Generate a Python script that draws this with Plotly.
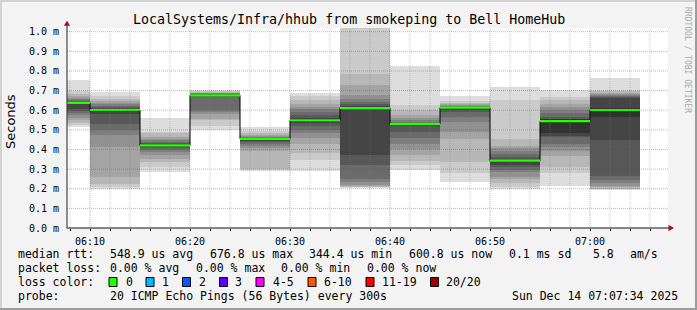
import pandas as pd
import plotly.graph_objects as go

# ---------------- data ----------------
DAY = "2025-12-14"
STEP_S = 300  # one smokeping interval (20 pings every 300 s)

interval_end = ["06:10", "06:15", "06:20", "06:25", "06:30", "06:35",
                "06:40", "06:45", "06:50", "06:55", "07:00", "07:05"]

# median rtt per interval (ms)
median_ms = [0.637, 0.601, 0.421, 0.676, 0.454, 0.549,
             0.611, 0.530, 0.613, 0.343, 0.544, 0.601]

# sorted 20 ping rtts per interval (ms) -> smoke
pings_ms = [
    [0.512, 0.524, 0.535, 0.549, 0.561, 0.574, 0.588, 0.598, 0.608, 0.630,
     0.641, 0.643, 0.646, 0.650, 0.655, 0.662, 0.672, 0.684, 0.700, 0.752],
    [0.198, 0.210, 0.225, 0.262, 0.414, 0.476, 0.500, 0.530, 0.580, 0.595,
     0.603, 0.608, 0.615, 0.622, 0.630, 0.638, 0.645, 0.655, 0.672, 0.693],
    [0.287, 0.310, 0.338, 0.350, 0.370, 0.385, 0.395, 0.405, 0.414, 0.418,
     0.424, 0.428, 0.433, 0.440, 0.447, 0.455, 0.465, 0.482, 0.490, 0.561],
    [0.498, 0.520, 0.550, 0.555, 0.580, 0.590, 0.600, 0.668, 0.671, 0.674,
     0.678, 0.680, 0.682, 0.684, 0.686, 0.688, 0.690, 0.693, 0.697, 0.704],
    [0.291, 0.295, 0.300, 0.390, 0.410, 0.420, 0.430, 0.440, 0.448, 0.452,
     0.456, 0.458, 0.460, 0.463, 0.466, 0.470, 0.476, 0.483, 0.493, 0.515],
    [0.288, 0.345, 0.380, 0.430, 0.460, 0.485, 0.500, 0.520, 0.535, 0.546,
     0.552, 0.562, 0.575, 0.590, 0.605, 0.615, 0.630, 0.650, 0.670, 0.688],
    [0.206, 0.208, 0.210, 0.213, 0.220, 0.235, 0.250, 0.320, 0.370, 0.609,
     0.613, 0.620, 0.630, 0.640, 0.655, 0.680, 0.730, 0.785, 1.050, 1.150],
    [0.296, 0.320, 0.340, 0.370, 0.400, 0.430, 0.460, 0.490, 0.520, 0.528,
     0.532, 0.534, 0.537, 0.542, 0.550, 0.560, 0.575, 0.600, 0.625, 0.823],
    [0.233, 0.280, 0.335, 0.455, 0.490, 0.540, 0.565, 0.590, 0.605, 0.611,
     0.614, 0.615, 0.617, 0.619, 0.622, 0.626, 0.630, 0.636, 0.645, 0.670],
    [0.200, 0.210, 0.228, 0.250, 0.262, 0.285, 0.296, 0.310, 0.322, 0.340,
     0.347, 0.350, 0.360, 0.375, 0.390, 0.410, 0.420, 0.455, 0.650, 0.718],
    [0.216, 0.280, 0.310, 0.365, 0.390, 0.415, 0.430, 0.465, 0.470, 0.482,
     0.553, 0.556, 0.565, 0.585, 0.600, 0.615, 0.630, 0.650, 0.667, 0.704],
    [0.194, 0.197, 0.200, 0.210, 0.215, 0.230, 0.245, 0.265, 0.450, 0.565,
     0.610, 0.660, 0.665, 0.670, 0.675, 0.685, 0.690, 0.697, 0.704, 0.764],
]

y_ticks = [0.0, 0.1, 0.2, 0.3, 0.4, 0.5, 0.6, 0.7, 0.8, 0.9, 1.0]
y_tick_text = ["%.1f m" % v for v in y_ticks]
x_major = ["06:10", "06:20", "06:30", "06:40", "06:50", "07:00"]

loss_labels = ["0", "1", "2", "3", "4-5", "6-10", "11-19", "20/20"]
loss_colors = ["#26ff00", "#00b8ff", "#0059ff", "#5e00ff",
               "#ff00ff", "#ff5a00", "#ff0000", "#a00000"]

title_text = "LocalSystems/Infra/hhub from smokeping to Bell HomeHub"
stats_rtt = ["548.9 us avg", "676.8 us max", "344.4 us min",
             "600.8 us now", "0.1 ms sd", "5.8", "am/s"]
stats_loss = ["0.00 % avg", "0.00 % max", "0.00 % min", "0.00 % now"]
probe_text = "20 ICMP Echo Pings (56 Bytes) every 300s"
stamp_text = "Sun Dec 14 07:07:34 2025"

# ---------------- geometry ----------------
WIDTH, HEIGHT = 697, 310
L, R, T, B = 67, 668, 28, 228
PW, PH = R - L, B - T
Y_TOP = 1.0188
X_START = pd.Timestamp(f"{DAY} 06:07:42")
X_END = pd.Timestamp(f"{DAY} 07:07:48")
MONO = "DejaVu Sans Mono"
LEG_SIZE = 11.5


def px(x):
    return (x - L) / PW


def py(y):
    return (B - y) / PH


t_end = pd.to_datetime([f"{DAY} {t}" for t in interval_end])
t_start = t_end - pd.Timedelta(seconds=STEP_S)
t_mid = t_end - pd.Timedelta(seconds=STEP_S / 2)

fig = go.Figure()

# smoke layers: outer pair lightest, inner pair darkest
n = len(pings_ms[0])
half = n // 2
for k in range(half):
    lo = [p[k] for p in pings_ms]
    hi = [p[n - 1 - k] for p in pings_ms]
    g = int(190 / half * (half - 1 - k) + 50)
    fig.add_trace(go.Bar(
        x=t_mid, y=[h - l for h, l in zip(hi, lo)], base=lo,
        width=[STEP_S * 1000] * len(lo),
        marker=dict(color=f"rgb({g},{g},{g})", line=dict(width=0)),
        hoverinfo="skip", showlegend=False))

# median: black step connector + loss coloured segments
fig.add_trace(go.Scatter(
    x=list(t_start) + [t_end[-1]], y=median_ms + [median_ms[-1]],
    mode="lines", line=dict(color="#000000", width=1, shape="hv"),
    hoverinfo="skip", showlegend=False))
gx, gy = [], []
for s, e, m in zip(t_start, t_end, median_ms):
    gx += [s, e, None]
    gy += [m, m, None]
fig.add_trace(go.Scatter(
    x=gx, y=gy, mode="lines", line=dict(color=loss_colors[0], width=2.2),
    hoverinfo="skip", showlegend=False))

shapes = []
# grid drawn above the smoke like rrdtool
minor_times = pd.date_range(f"{DAY} 06:08", f"{DAY} 07:06", freq="2min")
major_times = pd.to_datetime([f"{DAY} {t}" for t in x_major])
for t in minor_times:
    if t in major_times:
        continue
    shapes.append(dict(type="line", xref="x", yref="paper", x0=t, x1=t, y0=0, y1=1,
                       line=dict(color="rgba(128,128,128,0.40)", width=1, dash="1px,1px"),
                       layer="above"))
for t in major_times:
    shapes.append(dict(type="line", xref="x", yref="paper", x0=t, x1=t, y0=0, y1=1,
                       line=dict(color="rgba(255,0,0,0.40)", width=1, dash="1px,1px"),
                       layer="above"))
for v in y_ticks[1:]:
    shapes.append(dict(type="line", xref="paper", yref="y", x0=0, x1=1, y0=v, y1=v,
                       line=dict(color="rgba(255,0,0,0.40)", width=1, dash="1px,1px"),
                       layer="above"))

# axes lines and arrows
shapes.append(dict(type="line", xref="paper", yref="paper", x0=px(L - 0.5), x1=px(671), y0=0, y1=0,
                   line=dict(color="#111111", width=1.2), layer="above"))
shapes.append(dict(type="line", xref="paper", yref="paper", x0=0, x1=0, y0=0, y1=py(24),
                   line=dict(color="#444444", width=1.2), layer="above"))
shapes.append(dict(type="path", xref="paper", yref="paper",
                   path=f"M {px(668.5)} {py(224.8)} L {px(674)} {py(228)} L {px(668.5)} {py(231.2)} Z",
                   fillcolor="#a01818", line=dict(width=0), layer="above"))
shapes.append(dict(type="path", xref="paper", yref="paper",
                   path=f"M {px(63.8)} {py(25.8)} L {px(67)} {py(20.8)} L {px(70.2)} {py(25.8)} Z",
                   fillcolor="#a01818", line=dict(width=0), layer="above"))

# 3D frame around the image
shapes.append(dict(type="rect", xref="paper", yref="paper", x0=px(0), x1=px(WIDTH), y0=py(0), y1=py(2),
                   fillcolor="#d2d2d2", line=dict(width=0), layer="above"))
shapes.append(dict(type="rect", xref="paper", yref="paper", x0=px(0), x1=px(2), y0=py(0), y1=py(HEIGHT),
                   fillcolor="#d2d2d2", line=dict(width=0), layer="above"))
shapes.append(dict(type="rect", xref="paper", yref="paper", x0=px(WIDTH - 2), x1=px(WIDTH), y0=py(0), y1=py(HEIGHT),
                   fillcolor="#9c9c9c", line=dict(width=0), layer="above"))
shapes.append(dict(type="rect", xref="paper", yref="paper", x0=px(0), x1=px(WIDTH), y0=py(HEIGHT - 2), y1=py(HEIGHT),
                   fillcolor="#9c9c9c", line=dict(width=0), layer="above"))

# legend colour boxes
box_x = [109, 146, 182.5, 219.5, 256, 308, 366, 430.5]
lab_x = [123.5, 160, 197, 233, 271, 322, 380, 444]
ROW = [254, 268, 282, 296]
for bx, c in zip(box_x, loss_colors):
    shapes.append(dict(type="rect", xref="paper", yref="paper",
                       x0=px(bx), x1=px(bx + 8), y0=py(ROW[2] + 4.5), y1=py(ROW[2] - 4.5),
                       fillcolor=c, line=dict(color="#000000", width=1), layer="above"))

ann = []


def txt(x, y, s, size=LEG_SIZE, anchor="left", color="#000000", angle=0, family=MONO):
    ann.append(dict(x=px(x), y=py(y), xref="paper", yref="paper", text=s, showarrow=False,
                    xanchor=anchor, yanchor="middle", textangle=angle,
                    font=dict(family=family, size=size, color=color)))


txt(348.5, 19, title_text, size=13.3, anchor="center")
txt(10, 122, "Seconds", size=13, anchor="center", angle=-90, family="DejaVu Sans")
txt(688, 60, "RRDTOOL / TOBI OETIKER", size=8, anchor="center", angle=90, color="#ababab")

txt(16, ROW[0], "median rtt:")
for x, s in zip([107.5, 207.5, 306.5, 407, 506.5, 591, 628], stats_rtt):
    txt(x, ROW[0], s)
txt(16, ROW[1], "packet loss:")
for x, s in zip([107.5, 194, 279, 364.5], stats_loss):
    txt(x, ROW[1], s)
txt(16, ROW[2], "loss color:")
for x, s in zip(lab_x, loss_labels):
    txt(x, ROW[2], s)
txt(16, ROW[3], "probe:")
txt(107.5, ROW[3], probe_text)
txt(680, ROW[3], stamp_text, anchor="right")

fig.update_layout(
    width=WIDTH, height=HEIGHT,
    margin=dict(l=L, r=WIDTH - R, t=T, b=HEIGHT - B, pad=0),
    paper_bgcolor="#f3f3f3", plot_bgcolor="#ffffff",
    barmode="overlay", bargap=0, showlegend=False, hovermode=False,
    shapes=shapes, annotations=ann,
    font=dict(family=MONO, size=10, color="#000000"),
)
fig.update_xaxes(
    type="date", range=[X_START, X_END], tickformat="%H:%M",
    tick0=f"{DAY} 06:00", dtick=600000, showgrid=False, zeroline=False, showline=False,
    ticks="outside", ticklen=2, tickcolor="#000000", tickwidth=1,
    minor=dict(dtick=120000, tick0=f"{DAY} 06:00", ticks="outside", ticklen=2,
               tickcolor="#000000", showgrid=False),
    tickfont=dict(family=MONO, size=10, color="#000000"), ticklabelstandoff=2,
)
fig.update_yaxes(
    range=[0, Y_TOP], tickmode="array", tickvals=y_ticks, ticktext=y_tick_text,
    showgrid=False, zeroline=False, showline=False, ticks="",
    tickfont=dict(family=MONO, size=10, color="#000000"), ticklabelstandoff=7,
)

fig.write_html("out.html")
